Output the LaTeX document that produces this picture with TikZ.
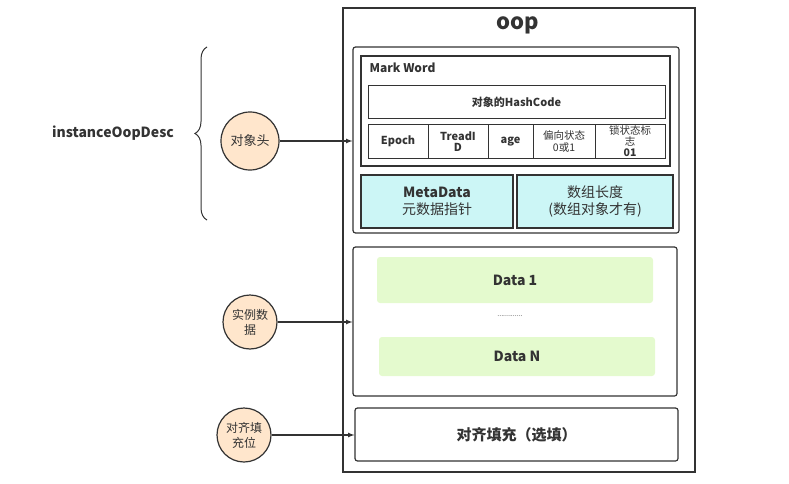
\documentclass[tikz,border=0pt]{standalone}
\usepackage{fontspec}
\setmainfont{Noto Sans CJK SC}
\usetikzlibrary{decorations.pathreplacing}
\definecolor{lineclr}{HTML}{333333}
\definecolor{headfill}{HTML}{FFE6CC}
\definecolor{metafill}{HTML}{CCF6F6}
\definecolor{datafill}{HTML}{E4FACE}
\tikzset{
  box/.style={draw=lineclr,line width=1.2pt,inner sep=1pt,align=center,text=lineclr},
  rbox/.style={box,rounded corners=2.5pt},
  cell/.style={box,line width=1pt,minimum height=34pt,font=\fontsize{11}{11.5}\selectfont\bfseries},
  greenbox/.style={fill=datafill,rounded corners=3pt,minimum width=276pt,text=lineclr,font=\fontsize{14}{16}\selectfont\bfseries},
  part/.style={draw=lineclr,line width=1.2pt,circle,fill=headfill,inner sep=0pt,align=center,text=lineclr,font=\fontsize{13}{15}\selectfont},
  arr/.style={->,>=latex,line width=1.2pt,draw=lineclr}
}
\begin{document}
\begin{tikzpicture}[x=1pt,y=-1pt]
\useasboundingbox (0,0) rectangle (789,484);
% outer object
\node[box,minimum width=352pt,minimum height=464pt] (oop) at (519,240) {};
\node[text=lineclr,font=\fontsize{22}{24}\selectfont\bfseries] (oopT) at (518,25) {oop};
% object header
\node[rbox,minimum width=326pt,minimum height=186pt] (hdr) at (516,140) {};
\node[box,minimum width=309pt,minimum height=110pt] (mw) at (515.5,111) {};
\node[anchor=west,text=lineclr,font=\fontsize{12}{14}\selectfont\bfseries] (mwT) at (366,68) {Mark Word};
\node[box,line width=1pt,minimum width=297pt,minimum height=33pt,font=\fontsize{11}{12}\selectfont\bfseries] (hash) at (516.5,102.5) {对象的HashCode};
\node[cell,minimum width=60pt] (c1) at (398,141.5) {Epoch};
\node[cell,minimum width=60pt] (c2) at (458,141.5) {TreadI\\D};
\node[cell,minimum width=45pt] (c3) at (510.5,141.5) {age};
\node[cell,minimum width=62pt,font=\fontsize{10.5}{11.5}\selectfont] (c4) at (564,141.5) {偏向状态\\0或1};
\node[cell,minimum width=70pt,font=\fontsize{10.5}{11}\selectfont] (c5) at (630,141.5) {锁状态标\\志\\\textbf{01}};
\node[box,fill=metafill,minimum width=152pt,minimum height=53pt,font=\fontsize{14}{17}\selectfont] (meta) at (437,201.5) {\textbf{MetaData}\\元数据指针};
\node[box,fill=metafill,minimum width=156pt,minimum height=53pt,font=\fontsize{14}{17}\selectfont] (len) at (595,201.5) {数组长度\\(数组对象才有)};
% instance data
\node[rbox,minimum width=324pt,minimum height=149pt] (dat) at (515,321.5) {};
\node[greenbox,minimum height=46pt] (d1) at (515,280) {Data 1};
\node[text=lineclr,font=\fontsize{7}{8}\selectfont] (dots) at (510,316) {.............};
\node[greenbox,minimum height=39pt] (dN) at (517,356.5) {Data N};
% padding
\node[rbox,minimum width=323pt,minimum height=53pt,font=\fontsize{15}{18}\selectfont\bfseries] (pad) at (516.5,434.5) {对齐填充（选填）};
% parts
\node[part,minimum size=58pt] (H) at (250,141) {对象头};
\node[part,minimum size=54pt,font=\fontsize{12}{15}\selectfont] (I) at (250,322) {实例数\\据};
\node[part,minimum size=54pt,font=\fontsize{12}{15}\selectfont] (P) at (244,435) {对齐填\\充位};
\draw[arr] (H) -- (H -| hdr.west);
\draw[arr] (I) -- (I -| dat.west);
\draw[arr] (P) -- (P -| pad.west);
% brace
\coordinate (brB) at (207,220);
\coordinate (brT) at (207,47);
\draw[lineclr,line width=1pt,decorate,decoration={brace,amplitude=12pt}] (brB) -- (brT);
\node[text=lineclr,font=\fontsize{14}{16}\selectfont\bfseries] (desc) at (113,133) {instanceOopDesc};
\end{tikzpicture}
\end{document}
